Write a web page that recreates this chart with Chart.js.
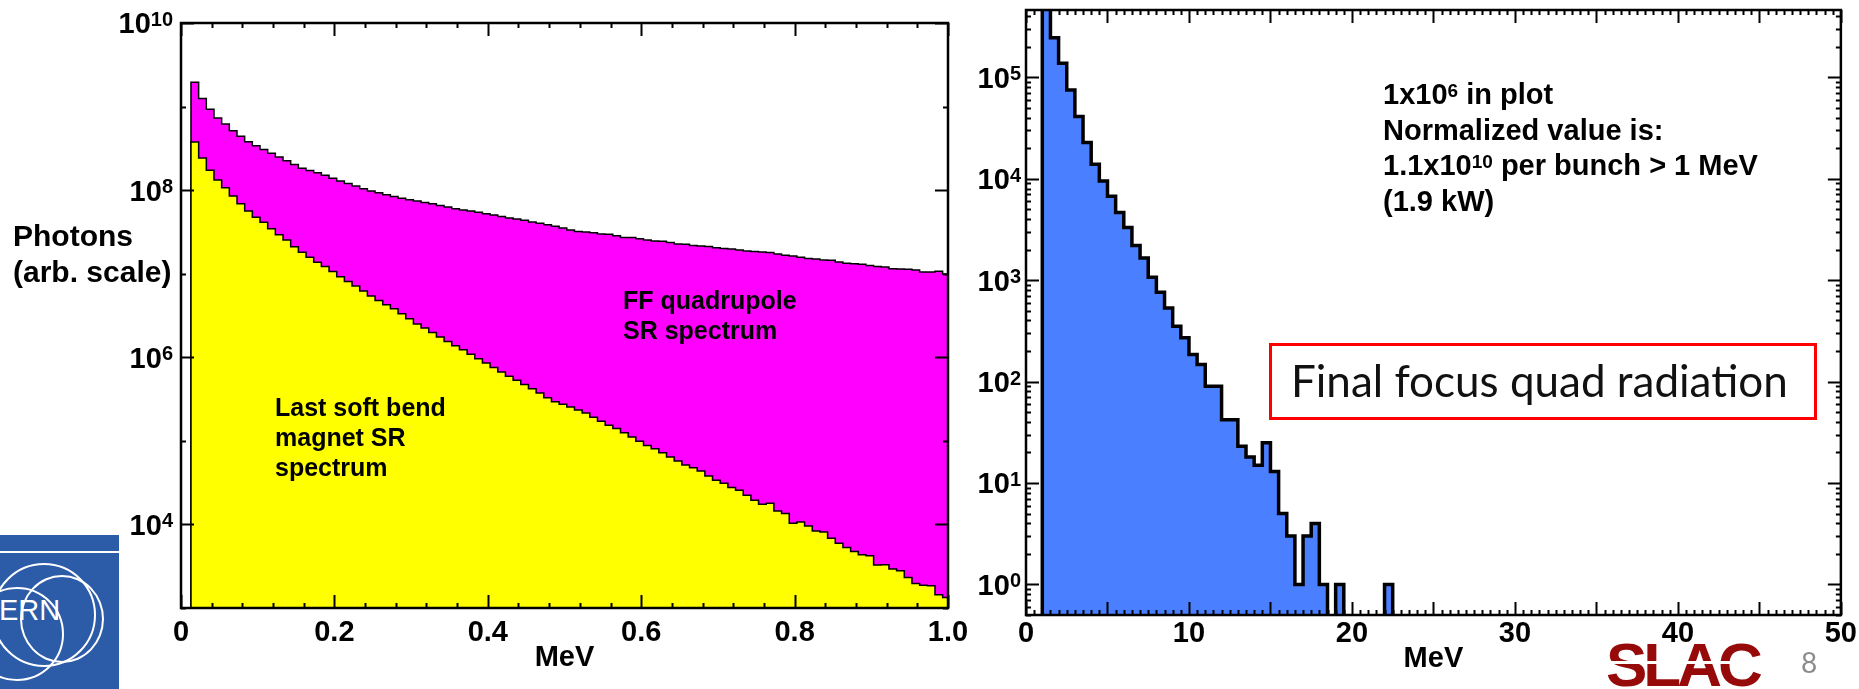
<!DOCTYPE html>
<html>
<head>
<meta charset="utf-8">
<script src="https://cdn.jsdelivr.net/npm/chart.js@4.4.0/dist/chart.umd.min.js"></script>
<style>
  html, body { margin: 0; padding: 0; background: #fff; }
  body { width: 1859px; height: 689px; position: relative; overflow: hidden;
         font-family: "Liberation Sans", Arial, sans-serif; }
  canvas { position: absolute; left: 0; top: 0; }
  .note { position: absolute; font-weight: bold; color: #000; white-space: nowrap; }
  .sup { font-size: 19px; line-height: 0; vertical-align: 7px; }
  .redbox { position: absolute; left: 1269px; top: 343px; width: 548px; height: 77px;
            box-sizing: border-box; border: 3px solid #ff0000; }
  .boxtext { position: absolute; left: 1291px; top: 354px; font-family: Lato, "Open Sans", sans-serif;
             font-size: 44px; line-height: 53px; color: #111; white-space: nowrap; }
  .cern { position: absolute; left: 0; top: 535px; width: 119px; height: 154px;
          background: #2c5ca8; overflow: hidden; }
  .cern .ring { position: absolute; border: 2px solid #fff; border-radius: 50%; }
  .cern .bar { position: absolute; left: 0; top: 16px; width: 119px; height: 2px; background: #fff; }
  .cern .txt { position: absolute; left: -22px; top: 58px; color: #fff; font-size: 29px; line-height: 34px; }
  .slac { position: absolute; left: 1606px; top: 630px; font-size: 62px; line-height: 70px;
          font-weight: bold; color: #960a0a; letter-spacing: -4px; }
  .slac .cut { position: absolute; left: 0; top: 31px; width: 150px; height: 3px; background: #fff; }
  .pageno { position: absolute; left: 1801px; top: 645px; font-family: Lato, sans-serif;
            font-size: 28px; line-height: 34px; color: #8c8c8c; }
</style>
</head>
<body>
<canvas id="leftChart" width="1859" height="689"></canvas>
<canvas id="rightChart" width="1859" height="689"></canvas>

<div class="note" style="left:13px; top:218px; font-size:30px; line-height:36px;">Photons<br>(arb. scale)</div>
<div class="note" style="left:623px; top:285px; font-size:25px; line-height:30px;">FF quadrupole<br>SR spectrum</div>
<div class="note" style="left:275px; top:392px; font-size:25px; line-height:30px;">Last soft bend<br>magnet SR<br>spectrum</div>
<div class="note" style="left:1383px; top:77px; font-size:29px; line-height:35.7px;">1x10<span class="sup">6</span> in plot<br>Normalized value is:<br>1.1x10<span class="sup">10</span> per bunch &gt; 1 MeV<br>(1.9 kW)</div>
<div class="redbox"></div>
<div class="boxtext">Final focus quad radiation</div>

<div class="cern">
  <div class="bar"></div>
  <div class="ring" style="left:-8px; top:28px; width:100px; height:100px;"></div>
  <div class="ring" style="left:20px; top:40px; width:80px; height:84px;"></div>
  <div class="ring" style="left:-30px; top:52px; width:90px; height:90px;"></div>
  <div class="txt">CERN</div>
</div>
<div class="slac">SLAC<div class="cut"></div></div>
<div class="pageno">8</div>

<script>
// ---- left panel: SR spectra, 0.01 MeV bins starting at 0.013 MeV ----
const leftBinStart = 0.013;
const leftBinWidth = 0.01;
const quadSR = [
  1.95e9, 1.25e9, 9.3e8, 7.3e8, 6.2e8, 5.15e8, 4.4e8, 3.8e8, 3.4e8, 3.06e8,
  2.77e8, 2.5e8, 2.24e8, 2.03e8, 1.83e8, 1.72e8, 1.61e8, 1.51e8, 1.39e8, 1.29e8,
  1.2e8, 1.12e8, 1.04e8, 9.8e7, 9.3e7, 8.8e7, 8.4e7, 8.0e7, 7.66e7, 7.4e7,
  7.13e7, 6.87e7, 6.56e7, 6.27e7, 5.98e7, 5.77e7, 5.61e7, 5.42e7, 5.21e7, 5.04e7,
  4.85e7, 4.63e7, 4.51e7, 4.35e7, 4.15e7, 4.01e7, 3.85e7, 3.69e7, 3.52e7, 3.33e7,
  3.21e7, 3.16e7, 3.1e7, 2.99e7, 2.96e7, 2.85e7, 2.72e7, 2.72e7, 2.62e7, 2.53e7,
  2.46e7, 2.44e7, 2.37e7, 2.27e7, 2.25e7, 2.17e7, 2.15e7, 2.11e7, 2.05e7, 2.0e7,
  1.98e7, 1.92e7, 1.87e7, 1.84e7, 1.82e7, 1.79e7, 1.72e7, 1.66e7, 1.63e7, 1.57e7,
  1.52e7, 1.5e7, 1.46e7, 1.45e7, 1.38e7, 1.33e7, 1.32e7, 1.3e7, 1.25e7, 1.22e7,
  1.2e7, 1.15e7, 1.14e7, 1.13e7, 1.11e7, 1.05e7, 1.05e7, 1.07e7, 9.95e6
];
const bendSR = [
  3.77e8, 2.43e8, 1.73e8, 1.32e8, 1.07e8, 8.5e7, 6.87e7, 5.61e7, 4.73e7, 4.13e7,
  3.44e7, 2.92e7, 2.53e7, 2.1e7, 1.81e7, 1.57e7, 1.37e7, 1.22e7, 1.06e7, 9.2e6,
  8.05e6, 7.15e6, 6.23e6, 5.43e6, 4.77e6, 4.25e6, 3.8e6, 3.31e6, 2.89e6, 2.5e6,
  2.24e6, 1.98e6, 1.75e6, 1.55e6, 1.37e6, 1.23e6, 1.09e6, 9.6e5, 8.55e5, 7.57e5,
  6.68e5, 5.92e5, 5.3e5, 4.71e5, 4.19e5, 3.75e5, 3.27e5, 2.93e5, 2.75e5, 2.54e5,
  2.34e5, 2.16e5, 1.92e5, 1.72e5, 1.54e5, 1.41e5, 1.25e5, 1.11e5, 9.9e4, 8.8e4,
  8.05e4, 7.2e4, 6.39e4, 5.73e4, 5.13e4, 4.78e4, 4.35e4, 3.79e4, 3.37e4, 3.1e4,
  2.76e4, 2.56e4, 2.23e4, 1.95e4, 1.74e4, 1.79e4, 1.45e4, 1.35e4, 1.03e4, 1.07e4,
  9.6e3, 8.36e3, 8.13e3, 6.84e3, 5.97e3, 5.3e3, 4.75e3, 4.33e3, 4.21e3, 3.26e3,
  3.29e3, 2.92e3, 2.79e3, 2.32e3, 1.97e3, 1.87e3, 1.85e3, 1.44e3, 1.34e3
];
const leftXTicks = [0, 0.2, 0.4, 0.6, 0.8, 1.0];
const leftYLabelExps = [4, 6, 8, 10];

// ---- right panel: final focus quad radiation, 0.5 MeV bins from 1 MeV ----
const rightBinStart = 1.0;
const rightBinWidth = 0.5;
const ffCounts = [
  6.0e5, 2.45e5, 1.37e5, 7.5e4, 4.1e4, 2.27e4, 1.39e4, 9.5e3, 6.7e3, 4.65e3,
  3.3e3, 2.19e3, 1.65e3, 1.07e3, 760, 532, 351, 270, 185, 147,
  90, 90, 42, 42, 23, 18, 15, 25, 13, 5,
  3, 1, 3, 4, 1, 0, 1, 0, 0, 0,
  0, 0, 1, 0
];
const rightXTicks = [0, 10, 20, 30, 40, 50];
const rightYLabelExps = [0, 1, 2, 3, 4, 5];

const FONT = '"Liberation Sans", Arial, sans-serif';

// step outline points: one point per bin at its left edge, closed at the right edge
const histPoints = (start, width, values, floor) => {
  const pts = [{ x: start, y: floor }];
  values.forEach((v, i) => pts.push({ x: start + i * width, y: Math.max(v, floor) }));
  pts.push({ x: start + values.length * width, y: Math.max(values[values.length - 1], floor) });
  return pts;
};

// frame with inward ticks on all four sides + 10^n labels on the y axis
const frameTicks = {
  id: 'frameTicks',
  afterDraw(chart, args, o) {
    const { ctx, chartArea: a, scales: { x, y } } = chart;
    ctx.save();
    ctx.strokeStyle = '#000';
    ctx.lineWidth = o.tickWidth;
    ctx.beginPath();
    const n = Math.round((x.max - x.min) / o.xMinor);
    for (let i = 0; i <= n; i++) {
      const v = x.min + i * o.xMinor;
      const r = v / o.xMajor;
      const len = Math.abs(r - Math.round(r)) < 1e-6 ? o.longTick : o.shortTick;
      const px = Math.round(x.getPixelForValue(v)) + 0.5;
      ctx.moveTo(px, a.bottom); ctx.lineTo(px, a.bottom - len);
      ctx.moveTo(px, a.top); ctx.lineTo(px, a.top + len);
    }
    const e0 = Math.floor(Math.log10(y.min));
    const e1 = Math.ceil(Math.log10(y.max));
    for (let e = e0; e <= e1; e++) {
      for (let m = 1; m <= 9; m++) {
        if (m > 1 && !o.yMinor) continue;
        const v = m * Math.pow(10, e);
        if (v < y.min * 0.999 || v > y.max * 1.001) continue;
        const len = (m === 1 && o.yLong(e)) ? o.longTick : o.shortTick;
        const py = Math.round(y.getPixelForValue(v)) + 0.5;
        ctx.moveTo(a.left, py); ctx.lineTo(a.left + len, py);
        ctx.moveTo(a.right, py); ctx.lineTo(a.right - len, py);
      }
    }
    ctx.stroke();
    ctx.lineWidth = o.frameWidth;
    ctx.strokeRect(a.left, a.top, a.right - a.left, a.bottom - a.top);

    ctx.fillStyle = '#000';
    ctx.textBaseline = 'alphabetic';
    ctx.textAlign = 'left';
    o.labels.forEach((e) => {
      const py = y.getPixelForValue(Math.pow(10, e));
      ctx.font = `bold ${o.supSize}px ${FONT}`;
      const ew = ctx.measureText(String(e)).width;
      ctx.font = `bold ${o.baseSize}px ${FONT}`;
      const bw = ctx.measureText('10').width;
      const xr = a.left - o.labelGap;
      const base = py + o.baseSize * 0.36;
      ctx.fillText('10', xr - ew - bw, base);
      ctx.font = `bold ${o.supSize}px ${FONT}`;
      ctx.fillText(String(e), xr - ew, base - 0.716 * (o.baseSize - o.supSize) - 1);
    });
    ctx.restore();
  }
};

const xAxis = (min, max, ticks, height, labelPad, titlePad, fmt) => ({
  type: 'linear',
  min, max,
  afterBuildTicks: (s) => { s.ticks = ticks.map((v) => ({ value: v })); },
  afterFit: (s) => { s.height = height; },
  grid: { display: false, drawTicks: false },
  border: { display: false },
  ticks: {
    autoSkip: false, maxRotation: 0, minRotation: 0, padding: labelPad,
    color: '#000', font: { family: FONT, size: 29, weight: 'bold' },
    callback: fmt
  },
  title: {
    display: true, text: 'MeV', color: '#000',
    font: { family: FONT, size: 29, weight: 'bold' },
    padding: { top: 0, bottom: titlePad }
  }
});

new Chart(document.getElementById('leftChart'), {
  type: 'line',
  data: {
    datasets: [
      {
        label: 'Last soft bend magnet SR spectrum',
        data: histPoints(leftBinStart, leftBinWidth, bendSR, 1e3),
        stepped: 'before', fill: 'start',
        backgroundColor: '#ffff00', borderColor: '#000', borderWidth: 1.5,
        pointRadius: 0
      },
      {
        label: 'FF quadrupole SR spectrum',
        data: histPoints(leftBinStart, leftBinWidth, quadSR, 1e3),
        stepped: 'before', fill: 'start',
        backgroundColor: '#ff00ff', borderColor: '#000', borderWidth: 1.5,
        pointRadius: 0
      }
    ]
  },
  options: {
    responsive: false,
    animation: false,
    events: [],
    layout: { padding: { left: 181, right: 911, top: 23, bottom: 0 } },
    scales: {
      x: xAxis(0, 1, leftXTicks, 81, 8, 14, (v) => (v === 0 ? '0' : v.toFixed(1))),
      y: { type: 'logarithmic', min: 1e3, max: 1e10, display: false }
    },
    plugins: {
      legend: { display: false },
      tooltip: { enabled: false },
      frameTicks: {
        xMinor: 0.04, xMajor: 0.2, yMinor: false, yLong: (e) => e % 2 === 0,
        longTick: 13, shortTick: 5, tickWidth: 2, frameWidth: 2.5,
        labels: leftYLabelExps, baseSize: 29, supSize: 20, labelGap: 8
      }
    }
  },
  plugins: [frameTicks]
});

new Chart(document.getElementById('rightChart'), {
  type: 'line',
  data: {
    datasets: [
      {
        label: 'Final focus quad radiation',
        data: histPoints(rightBinStart, rightBinWidth, ffCounts, 0.1),
        stepped: 'before', fill: 'start',
        backgroundColor: '#4a80ff', borderColor: '#000', borderWidth: 3.5,
        pointRadius: 0
      }
    ]
  },
  options: {
    responsive: false,
    animation: false,
    events: [],
    layout: { padding: { left: 1026, right: 16, top: 10, bottom: 0 } },
    scales: {
      x: xAxis(0, 50, rightXTicks, 74, 2, 13, (v) => String(v)),
      y: { type: 'logarithmic', min: 0.5, max: 4.6e5, display: false }
    },
    plugins: {
      legend: { display: false },
      tooltip: { enabled: false },
      frameTicks: {
        xMinor: 0.5, xMajor: 5, yMinor: true, yLong: () => true,
        longTick: 13, shortTick: 5, tickWidth: 2, frameWidth: 2.5,
        labels: rightYLabelExps, baseSize: 29, supSize: 20, labelGap: 5
      }
    }
  },
  plugins: [frameTicks]
});
</script>
</body>
</html>
